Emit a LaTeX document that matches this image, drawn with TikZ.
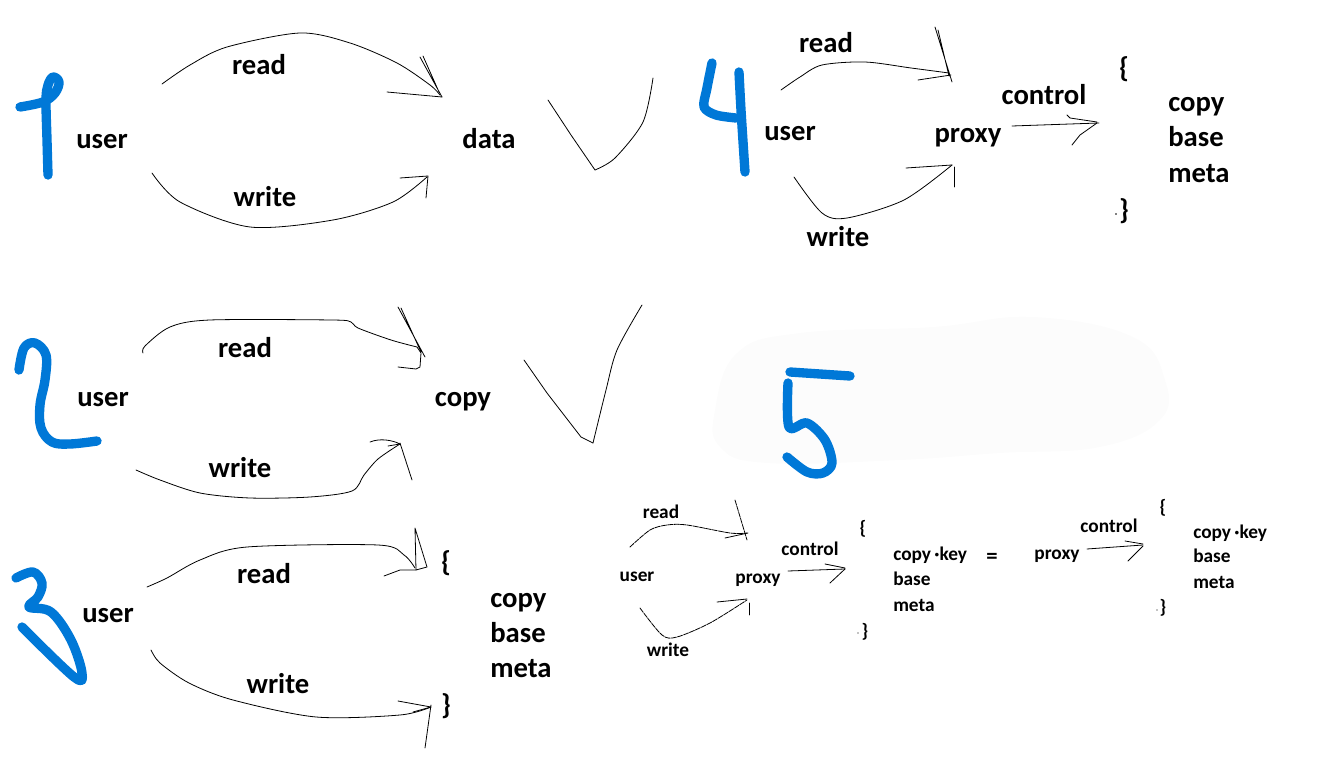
\documentclass[tikz,border=0pt]{standalone}
\usepackage{fontspec}
\setmainfont{Carlito}
\definecolor{ink}{HTML}{0078D7}
\definecolor{haze}{HTML}{FCFCFC}
\begin{document}
\begin{tikzpicture}[x=0.75pt,y=-0.75pt,
  big/.style={font=\fontsize{21.5}{25}\selectfont\bfseries, inner sep=0pt, text height=0.7em, text depth=0.25em, yshift=-5.2pt},
  small/.style={font=\fontsize{14.5}{17}\selectfont\bfseries, inner sep=0pt, text height=0.7em, text depth=0.25em, yshift=-2.6pt},
  pen/.style={line width=0.6pt, line cap=round, line join=round},
  rough/.style={pen, dash pattern=on 4pt off 0.8pt},
  marker/.style={draw=ink, line width=7pt, line cap=round, line join=round},
]
\useasboundingbox (0,0) rectangle (1322,770);
% faint blob
\fill[haze] plot[smooth cycle, tension=0.7] coordinates {(715,410) (737,353) (800,333) (933,327) (1033,317) (1133,337) (1165,380) (1160,420) (1100,447) (1000,453) (900,460) (767,463) (720,447)};

% ================= 1 =================
\draw[marker] plot[smooth, tension=0.6] coordinates {(20,107) (43,102) (55,93) (59,82) (53,77) (48,85) (46,100) (47,140) (48,175)};
\node[big] (u1) at (102,139) {user};
\node[big] (r1) at (259,65) {read};
\node[big] (w1) at (265,197) {write};
\node[big] (d1) at (489,139) {data};
\draw[pen] plot[smooth] coordinates {(162,84) (190,65) (227,47) (300,33) (350,43) (397,63) (430,85) (440,95)};
\draw[pen] (387,92) -- (442,97);
\draw[pen] (420,57) -- (442,97) (423,56) -- (439,92);
\draw[pen] plot[smooth] coordinates {(152,173) (180,202) (250,227) (333,220) (393,202) (427,177)};
\draw[pen] (400,178) -- (428,176) -- (426,198);
\draw[pen] (548,100) -- (571,135) -- (595,170);
\draw[pen] plot[smooth] coordinates {(595,170) (615,158) (643,122) (653,78)};

% ================= 2 =================
\draw[marker] plot[smooth, tension=0.6] coordinates {(19,370) (24,348) (35,343) (46,355) (45,380) (40,405) (41,428) (52,442) (70,444) (97,441)};
\node[big] (u2) at (103,397) {user};
\node[big] (r2) at (245,348) {read};
\node[big] (w2) at (240,468) {write};
\node[big] (c2) at (463,397) {copy};
\draw[pen] plot[smooth, tension=0.5] coordinates {(143,353) (145,346) (170,327) (210,320) (332,320) (351,322) (358,328) (391,340) (417,347)};
\draw[pen] (417,347) -- (421,353) -- (420,367) -- (416,369) -- (398,367);
\draw[pen] (398,307) -- (425,357) (401,308) -- (421,352);
\draw[pen] plot[smooth, tension=0.5] coordinates {(136,470) (160,480) (200,493) (250,498) (310,497) (352,491) (364,475) (378,459) (400,444)};
\draw[pen] (370,442) .. controls (380,438) and (392,440) .. (400,444) -- (388,446);
\draw[pen] (400,443) -- (412,480);
\draw[pen] (524,360) -- (547,393) -- (581,437) -- (593,443);
\draw[pen] plot[smooth] coordinates {(593,443) (606,390) (617,350) (642,305)};

% ================= 3 =================
\draw[marker] plot[smooth, tension=0.6] coordinates {(16,578) (33,572) (42,583) (38,597) (29,607) (51,612) (71,640) (82,673) (74,677) (22,627)};
\node[big] (u3) at (108,613) {user};
\node[big] (r3) at (264,574) {read};
\node[big] (w3) at (278,684) {write};
\node[big] (ob3) at (446,562) {\{};
\node[big] (cb3) at (446,705) {\}};
\node[big,anchor=west] (c3) at (490,598) {copy};
\node[big,anchor=west] (b3) at (490,633) {base};
\node[big,anchor=west] (m3) at (490,668) {meta};
\draw[pen] plot[smooth, tension=0.5] coordinates {(147,587) (167,578) (200,560) (247,547) (378,545) (404,555) (415,568)};
\draw[pen] (384,576) -- (400,570) -- (416,570);
\draw[pen] (415,528) -- (416,570) (415,528) -- (427,567) -- (416,570);
\draw[pen] plot[smooth, tension=0.5] coordinates {(151,650) (160,663) (189,683) (233,700) (316,717) (400,715) (431,707)};
\draw[pen] (398,701) -- (431,707) (413,712) -- (431,707);
\draw[pen] (431,705) -- (425,748);

% ================= 4 =================
\draw[marker] plot[smooth, tension=0.5] coordinates {(712,63) (707,88) (704,107) (716,115) (736,118)};
\draw[marker] plot[smooth, tension=0.5] coordinates {(739,72) (741,110) (745,172)};
\node[big] (u4) at (790,131) {user};
\node[big] (r4) at (826,43) {read};
\node[big] (w4) at (838,237) {write};
\node[big] (p4) at (968,133) {proxy};
\node[big] (k4) at (1044,95) {control};
\node[big] (ob4) at (1124,68) {\{};
\node[big] (cb4) at (1124,210) {\}};
\fill (1116,214) circle (0.8);
\node[big,anchor=west] (c4) at (1168,102) {copy};
\node[big,anchor=west] (b4) at (1168,137) {base};
\node[big,anchor=west] (m4) at (1168,173) {meta};
\draw[pen] plot[smooth, tension=0.5] coordinates {(781,90) (800,77) (822,65) (865,62) (911,68) (949,73)};
\draw[pen] (918,80) -- (951,75);
\draw[pen] (935,27) -- (952,82) (938,30) -- (949,76);
\draw[pen] plot[smooth, tension=0.5] coordinates {(794,177) (822,213) (847,218) (904,200) (952,165)};
\draw[pen] (906,168) -- (952,165);
\draw[pen] (954,167) -- (954,187);
\coordinate (ps4) at (1012,126);
\coordinate (pe4) at (1099,123);
\draw[pen] (ps4) -- (pe4);
\draw[pen] (1067,115) -- (1070,118) -- (1097,122) (1072,145) -- (1080,135) -- (1097,123);

% ================= 5 =================
\draw[marker] (790,372) -- (850,376);
\draw[marker] plot[smooth, tension=0.55] coordinates {(788,383) (789,427) (807,423) (825,440) (832,463) (823,473) (807,472) (787,457)};
\node[small] (r5) at (661,512) {read};
\node[small] (u5) at (637,575) {user};
\node[small] (w5) at (668,650) {write};
\node[small] (p5) at (758,577) {proxy};
\node[small] (k5) at (810,549) {control};
\node[small] (ob5) at (863,528) {\{};
\node[small] (cb5) at (865,631) {\}};
\fill (858,633) circle (0.6);
\node[small,anchor=west] (c5) at (893,554) {copy\,·key};
\node[small,anchor=west] (b5) at (893,579) {base};
\node[small,anchor=west] (m5) at (893,605) {meta};
\node[font=\fontsize{17}{20}\selectfont\bfseries, inner sep=0pt] (eq) at (992,558) {=};
\draw[rough] plot[smooth, tension=0.5] coordinates {(630,547) (650,530) (667,525) (687,525) (730,533) (747,533)};
\draw[pen] (725,538) -- (748,533);
\draw[rough] (735,500) -- (747,540);
\draw[rough] plot[smooth, tension=0.5] coordinates {(640,608) (662,635) (677,637) (710,623) (747,600)};
\draw[pen] (717,602) -- (747,599);
\draw[pen] (749,603) -- (749,615);
\coordinate (ks5) at (788,571);
\coordinate (ke5) at (845,569);
\draw[pen] (ks5) -- (ke5);
\draw[pen] (825,564) -- (845,568) (830,583) -- (845,569);
% right part
\node[small] (p6) at (1057,553) {proxy};
\node[small] (k6) at (1109,526) {control};
\node[small] (ob6) at (1163,507) {\{};
\node[small] (cb6) at (1163,607) {\}};
\fill (1157,610) circle (0.6);
\node[small,anchor=west] (c6) at (1193,532) {copy\,·key};
\node[small,anchor=west] (b6) at (1193,556) {base};
\node[small,anchor=west] (m6) at (1193,582) {meta};
\coordinate (ks6) at (1087,549);
\coordinate (ke6) at (1143,545);
\draw[pen] (ks6) -- (ke6);
\draw[pen] (1125,541) -- (1143,544) (1128,561) -- (1143,546);
\end{tikzpicture}
\end{document}
